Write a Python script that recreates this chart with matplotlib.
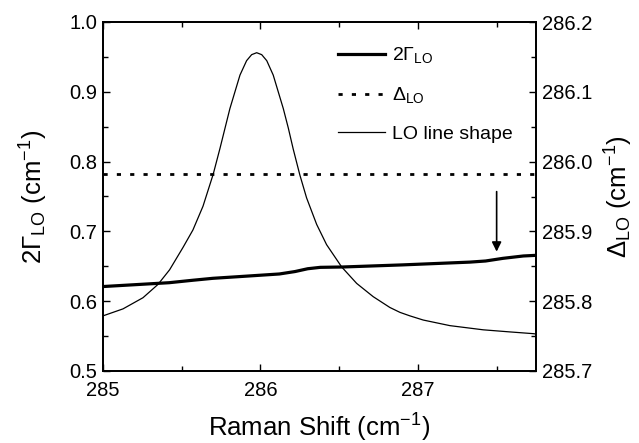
import matplotlib
matplotlib.use("Agg")
import matplotlib.pyplot as plt
from matplotlib.ticker import MultipleLocator

plt.rcParams['font.family'] = ['Liberation Sans', 'DejaVu Sans']
plt.rcParams['mathtext.fontset'] = 'custom'
plt.rcParams['mathtext.rm'] = 'Liberation Sans'
plt.rcParams['mathtext.it'] = 'Liberation Sans'

# ---- data ----
gamma_x = [285.0, 285.42, 285.57, 285.698, 285.85, 286.12, 286.22, 286.30, 286.38, 286.52,
           286.90, 287.33, 287.43, 287.54, 287.67, 287.75]
gamma_y = [0.621, 0.6265, 0.630, 0.6328, 0.635, 0.639, 0.6425, 0.6465, 0.6485, 0.649,
           0.652, 0.656, 0.6576, 0.6614, 0.6648, 0.6657]

delta_x = [285.0, 287.75]
delta_y = [285.982, 285.982]

shape_x = [285.0, 285.127, 285.254, 285.349, 285.423, 285.508, 285.571, 285.635, 285.70, 285.743,
           285.775, 285.806, 285.838, 285.87, 285.912, 285.944, 285.976, 286.008, 286.04, 286.081,
           286.113, 286.145, 286.177, 286.208, 286.25, 286.293, 286.357, 286.42, 286.516, 286.611,
           286.716, 286.822, 286.886, 286.949, 287.034, 287.203, 287.415, 287.584, 287.732, 287.75]
shape_y = [0.579, 0.589, 0.605, 0.624, 0.645, 0.677, 0.702, 0.736, 0.782, 0.819,
           0.848, 0.876, 0.900, 0.924, 0.9446, 0.9532, 0.956, 0.9532, 0.9446, 0.924,
           0.900, 0.876, 0.848, 0.818, 0.781, 0.748, 0.710, 0.681, 0.649, 0.6255,
           0.6065, 0.591, 0.584, 0.579, 0.573, 0.565, 0.559, 0.556, 0.5535, 0.553]

arrow_x = 287.5
arrow_y_start = 0.757
arrow_y_end = 0.671

xticks = [285, 286, 287]
yticks_left = [0.5, 0.6, 0.7, 0.8, 0.9, 1.0]
yticks_right = [285.7, 285.8, 285.9, 286.0, 286.1, 286.2]

# ---- figure ----
fig = plt.figure(figsize=(6.39, 4.43), dpi=100)
ax = fig.add_axes([103/639, 1-371/443, 433/639, 349/443])
ax2 = ax.twinx()

l1, = ax.plot(gamma_x, gamma_y, color='black', lw=2.3, label=r'2$\Gamma_{\mathrm{LO}}$',
              solid_joinstyle='round')
l3, = ax.plot(shape_x, shape_y, color='black', lw=0.9, label='LO line shape',
              solid_joinstyle='round')
l2, = ax2.plot(delta_x, delta_y, color='black', lw=2.0, linestyle=(0, (1.5, 3.3)),
               label=r'$\Delta_{\mathrm{LO}}$')

ax.annotate('', xy=(arrow_x, arrow_y_end), xytext=(arrow_x, arrow_y_start),
            arrowprops=dict(arrowstyle='-|>', lw=1.2, color='black', mutation_scale=14,
                            shrinkA=0, shrinkB=0))

ax.set_xlim(285, 287.75)
ax.set_ylim(0.5, 1.0)
ax2.set_ylim(285.7, 286.2)
ax.set_xticks(xticks)
ax.set_xticklabels([str(t) for t in xticks])
ax.set_yticks(yticks_left)
ax.set_yticklabels([f"{t:.1f}" for t in yticks_left])
ax2.set_yticks(yticks_right)
ax2.set_yticklabels([f"{t:.1f}" for t in yticks_right])
ax.xaxis.set_minor_locator(MultipleLocator(0.5))
ax.yaxis.set_minor_locator(MultipleLocator(0.05))
ax2.yaxis.set_minor_locator(MultipleLocator(0.05))

ax.tick_params(axis='x', which='both', direction='in', top=True, labelsize=14.5, pad=7)
ax.tick_params(axis='y', which='both', direction='in', left=True, right=False, labelsize=14.5, pad=4)
ax2.tick_params(axis='y', which='both', direction='in', right=True, labelsize=14.5, pad=4)
for a in (ax, ax2):
    a.tick_params(which='major', length=5, width=1)
    a.tick_params(which='minor', length=3.5, width=1)
    for s in a.spines.values():
        s.set_linewidth(1.3)

ax.set_xlabel(r'Raman Shift (cm$^{\mathregular{-1}}$)', fontsize=18.5, labelpad=9)
ax.set_ylabel(r'2$\Gamma_{\mathrm{LO}}$ (cm$^{\mathregular{-1}}$)', fontsize=18.5, labelpad=14)
ax2.set_ylabel(r'$\Delta_{\mathrm{LO}}$ (cm$^{\mathregular{-1}}$)', fontsize=18.5, labelpad=8)

leg = ax.legend(handles=[l1, l2, l3], loc='upper left', bbox_to_anchor=(0.543, 0.933),
                frameon=False, fontsize=14, handlelength=2.4, handletextpad=0.35,
                labelspacing=1.03, borderpad=0, borderaxespad=0)

fig.savefig('out.png', dpi=100)
